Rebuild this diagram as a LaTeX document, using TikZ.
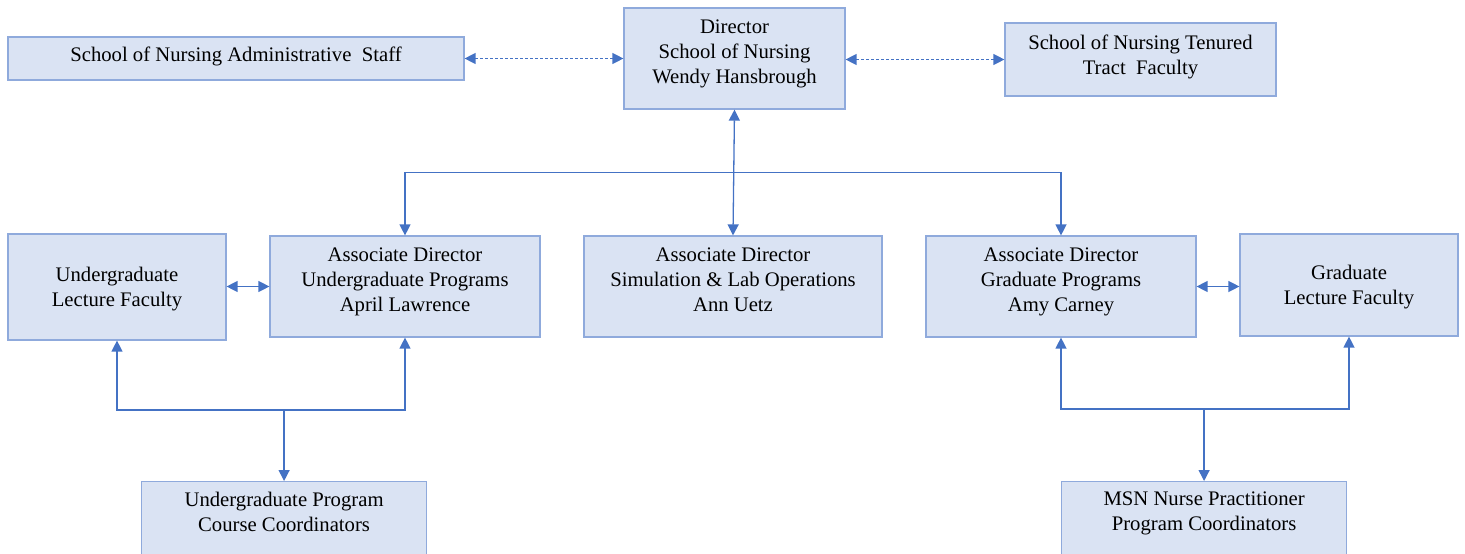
\documentclass[tikz,border=0pt]{standalone}
\usepackage{fontspec}
\setmainfont{Liberation Serif}
\usetikzlibrary{arrows.meta,calc}
\definecolor{boxfill}{HTML}{DAE3F3}
\definecolor{boxline}{HTML}{8FAADC}
\definecolor{linkcol}{HTML}{4472C4}
\begin{document}
\begin{tikzpicture}[x=1pt,y=-1pt,
  box/.style={draw=boxline,fill=boxfill,line width=1.2pt,inner sep=0pt},
  lbl/.style={align=center,inner sep=0pt,font=\fontsize{20.7}{25}\selectfont},
  link/.style={draw=linkcol,line width=1.3pt,-{Triangle[length=11pt,width=11pt]}},
  dlink/.style={link,{Triangle[length=11pt,width=11pt]}-{Triangle[length=11pt,width=11pt]}},
  dotlink/.style={dlink,dash pattern=on 3pt off 2pt}]
\useasboundingbox (0,0) rectangle (1465,554);
\node[box,minimum width=456pt,minimum height=43pt,
  label={[lbl,yshift=2pt]center:School of Nursing Administrative\ \ Staff}] (admin) at (236,58.5) {};
\node[box,minimum width=221pt,minimum height=101pt,
  label={[lbl,yshift=5pt]center:Director\\School of Nursing\\Wendy Hansbrough}] (dir) at (734.5,58.5) {};
\node[box,minimum width=271pt,minimum height=73pt,
  label={[lbl,yshift=3pt]center:School of Nursing Tenured\\Tract\ \ Faculty}] (ten) at (1140.5,59.5) {};
\node[box,minimum width=218pt,minimum height=106pt,
  label={[lbl,yshift=-2pt]center:Undergraduate\\Lecture Faculty}] (uglec) at (117,287) {};
\node[box,minimum width=270pt,minimum height=101pt,
  label={[lbl,yshift=5pt]center:Associate Director\\Undergraduate Programs\\April Lawrence}] (aug) at (405,286.5) {};
\node[box,minimum width=298pt,minimum height=101pt,
  label={[lbl,yshift=7pt]center:Associate Director\\Simulation \& Lab Operations\\Ann Uetz}] (sim) at (733,286.5) {};
\node[box,minimum width=270pt,minimum height=101pt,
  label={[lbl,yshift=5pt]center:Associate Director\\Graduate Programs\\Amy Carney}] (agr) at (1061,286.5) {};
\node[box,minimum width=218pt,minimum height=102pt,
  label={[lbl,yshift=-2pt]center:Graduate\\Lecture Faculty}] (grlec) at (1349,285) {};
\node[box,minimum width=285pt,minimum height=100pt,anchor=north west,
  label={[lbl,anchor=north,yshift=-11pt]north:Undergraduate Program\\Course Coordinators}] (ugc) at (141,481) {};
\node[box,minimum width=285pt,minimum height=100pt,anchor=north west,
  label={[lbl,anchor=north,yshift=-11pt]north:MSN Nurse Practitioner\\Program Coordinators}] (msn) at (1061,481) {};
% top dotted links
\draw[dotlink] (admin.east) -- (dir.west |- admin.east);
\draw[dotlink] (dir.east |- ten.west) -- (ten.west);
% director to associates
\draw[dlink] (dir.south) -- (sim.north);
\coordinate (hub) at ($(dir.south)+(0,63)$);
\draw[link] (hub) -| (aug.north);
\draw[link] (hub) -| (agr.north);
% lecture faculty links
\draw[dlink] (uglec.east |- aug.west) -- (aug.west);
\draw[dlink] (agr.east) -- (grlec.west |- agr.east);
% coordinators
\coordinate (ugj) at ($(ugc.north)+(0,-71)$);
\draw[link] (ugj) -- (ugc.north);
\draw[link] (ugj) -| (uglec.south);
\draw[link] (ugj) -| (aug.south);
\coordinate (msj) at ($(msn.north)+(0,-72)$);
\draw[link] (msj) -- (msn.north);
\draw[link] (msj) -| (agr.south);
\draw[link] (msj) -| (grlec.south);
\end{tikzpicture}
\end{document}
